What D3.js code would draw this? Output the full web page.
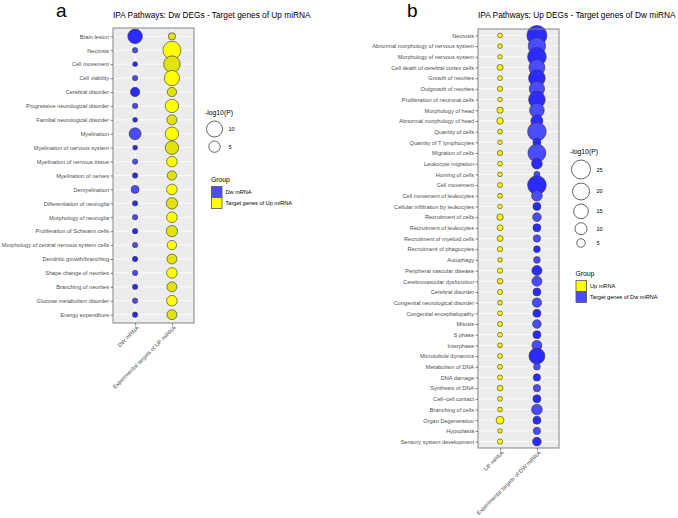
<!DOCTYPE html>
<html>
<head>
<meta charset="utf-8">
<script src="https://cdn.jsdelivr.net/npm/d3@7"></script>
<style>
  body { margin: 0; background: #fff; }
  svg text { font-family: "Liberation Sans", Arial, sans-serif; }
</style>
</head>
<body>
<svg id="chart" width="678" height="518"></svg>
<script>
//panel a data
var aPathways = ['Brain lesion', 'Necrosis', 'Cell movement', 'Cell viability', 'Cerebral disorder',
  'Progressive neurological disorder', 'Familial neurological disorder', 'Myelination',
  'Myelination of nervous system', 'Myelination of nervous tissue', 'Myelination of nerves',
  'Demyelination', 'Differentiation of neuroglia', 'Morphology of neuroglia',
  'Proliferation of Schwann cells', 'Morphology of central nervous system cells',
  'Dendritic growth/branching', 'Shape change of neurites', 'Branching of neurites',
  'Glucose metabolism disorder', 'Energy expenditure'];
var aColumns = ['DW mRNA', 'Experimental targets of UP miRNA'];
var aDwMrna = [8.3, 1.1, 0.9, 1.1, 3.4, 1.1, 0.9, 5.6, 0.9, 1.1, 1.1, 2.5, 1.1, 1.1, 1.1, 1.1, 1.1, 1.1, 1.1, 1.1, 1.1];
var aUpTargets = [2.1, 12.7, 10.8, 9.2, 3.4, 7.0, 3.9, 7.0, 7.0, 4.4, 3.4, 4.4, 5.0, 4.4, 5.0, 3.4, 3.9, 4.4, 3.9, 4.4, 3.9];
var aSizeBreaks = [10, 5];
var aGroups = ['Dw mRNA', 'Target genes of Up miRNA'];

//panel b data
var bPathways = ['Necrosis', 'Abnormal morphology of nervous system', 'Morphology of nervous system',
  'Cell death of cerebral cortex cells', 'Growth of neurites', 'Outgrowth of neurites',
  'Proliferation of neuronal cells', 'Morphology of head', 'Abnormal morphology of head',
  'Quantity of cells', 'Quantity of T lymphocytes', 'Migration of cells', 'Leukocyte migration',
  'Homing of cells', 'Cell movement', 'Cell movement of leukocytes', 'Cellular infiltration by leukocytes',
  'Recruitment of cells', 'Recruitment of leukocytes', 'Recruitment of myeloid cells',
  'Recruitment of phagocytes', 'Autophagy', 'Peripheral vascular disease', 'Cerebrovascular dysfunction',
  'Cerebral disorder', 'Congenital neurological disorder', 'Congenital encephalopathy', 'Mitosis',
  'S phase', 'Interphase', 'Microtubule dynamics', 'Metabolism of DNA', 'DNA damage',
  'Synthesis of DNA', 'Cell\u2212cell contact', 'Branching of cells', 'Organ Degeneration',
  'Hypoplasia', 'Sensory system development'];
var bColumns = ['UP mRNA', 'Experimental targets of DW miRNA'];
var bUpMrna = [1.5, 1.5, 1.4, 2.5, 1.6, 1.9, 1.4, 2.7, 3.0, 1.6, 1.4, 1.9, 1.6, 1.5, 1.7, 1.6, 1.4, 2.9, 2.4, 2.4,
  1.9, 1.4, 1.9, 2.2, 1.8, 1.6, 1.6, 1.7, 1.6, 1.6, 1.6, 1.7, 1.7, 2.2, 1.6, 1.6, 4.3, 1.4, 1.9];
var bDwTargets = [27.7, 20.9, 24.0, 17.7, 19.2, 16.3, 19.2, 14.9, 10.0, 24.0, 4.4, 22.4, 7.9, 2.5, 24.0, 7.9, 4.4, 5.2, 4.4, 3.7,
  3.1, 3.1, 6.9, 6.9, 4.4, 6.0, 4.4, 5.2, 4.4, 6.9, 17.7, 3.1, 3.7, 3.7, 4.4, 7.9, 4.4, 3.7, 5.2];
var bSizeBreaks = [25, 20, 15, 10, 5];
var bGroups = ['Up mRNA', 'Target genes of Dw miRNA'];

var svg = d3.select('#chart');

//shades: [even rows, odd rows]
var blueShades = ['#2b2bff', '#4b4bff'];
var yellowAShades = ['#e2e20e', '#ffff00'];
var yellowBShades = ['#ffff00', '#f5f500'];

drawPanel({
  letter: 'a', letterX: 56,
  title: 'IPA Pathways: Dw DEGs - Target genes of Up miRNA',
  left: 113, right: 194, top: 28, bottom: 323,
  pathways: aPathways, columns: aColumns,
  series: [aDwMrna, aUpTargets],
  shades: [blueShades, yellowAShades],
  size: d3.scaleSqrt().domain([0, 10]).range([0, 8]),
  breaks: aSizeBreaks,
  legendX: 205, legendY: 115,
  groups: aGroups, groupFill: ['#4b4bff', '#ffff00'],
  groupX: 211, groupY: 182
});

drawPanel({
  letter: 'b', letterX: 407,
  title: 'IPA Pathways: Up DEGs - Target genes of Dw miRNA',
  left: 478, right: 559, top: 29, bottom: 448,
  pathways: bPathways, columns: bColumns,
  series: [bUpMrna, bDwTargets],
  shades: [yellowBShades, blueShades],
  size: d3.scaleSqrt().domain([0, 25]).range([0, 9.5]),
  breaks: bSizeBreaks,
  legendX: 570, legendY: 154,
  groups: bGroups, groupFill: ['#ffff00', '#4b4bff'],
  groupX: 575.5, groupY: 276
});

function drawPanel(p) {
  var g = svg.append('g');

  var y = d3.scalePoint().domain(p.pathways).range([p.top, p.bottom]).padding(0.6);
  var x = d3.scalePoint().domain(p.columns).range([p.left, p.right]).padding(0.6);

  //letter and title
  g.append('text').attr('x', p.letterX).attr('y', 17)
    .style('font-size', '19px').text(p.letter);
  g.append('text').attr('x', p.left).attr('y', 17.5)
    .style('font-size', '8.3px').text(p.title);

  //panel background + grid
  g.append('rect').attr('x', p.left).attr('y', p.top)
    .attr('width', p.right - p.left).attr('height', p.bottom - p.top)
    .style('fill', '#ececec');
  g.selectAll('.hgrid').data(p.pathways).join('line')
    .attr('x1', p.left).attr('x2', p.right)
    .attr('y1', d => y(d)).attr('y2', d => y(d))
    .style('stroke', '#fff').style('stroke-width', 0.8);
  g.selectAll('.vgrid').data(p.columns).join('line')
    .attr('y1', p.top).attr('y2', p.bottom)
    .attr('x1', d => x(d)).attr('x2', d => x(d))
    .style('stroke', '#fff').style('stroke-width', 0.8);

  //points
  p.series.forEach(function(vals, ci) {
    g.append('g').selectAll('circle')
      .data(vals)
      .join('circle')
      .attr('cx', x(p.columns[ci]))
      .attr('cy', (d, i) => y(p.pathways[i]))
      .attr('r', d => p.size(d))
      .style('fill', (d, i) => p.shades[ci][i % 2])
      .style('stroke', '#333')
      .style('stroke-width', 0.6);
  });

  //panel border
  g.append('rect').attr('x', p.left).attr('y', p.top)
    .attr('width', p.right - p.left).attr('height', p.bottom - p.top)
    .style('fill', 'none').style('stroke', '#858585').style('stroke-width', 1);

  //axes
  var yAxis = g.append('g').attr('transform', `translate(${p.left},0)`)
    .call(d3.axisLeft(y).tickSize(2.5).tickPadding(1.5));
  var xAxis = g.append('g').attr('transform', `translate(0,${p.bottom})`)
    .call(d3.axisBottom(x).tickSize(2.5).tickPadding(1.5));
  [yAxis, xAxis].forEach(function(ax) {
    ax.select('.domain').remove();
    ax.selectAll('line').style('stroke', '#333').style('stroke-width', 0.6);
    ax.selectAll('text').style('fill', '#4d4d4d').style('font-size', '5.6px')
      .style('font-family', '"Liberation Sans", Arial, sans-serif');
  });
  xAxis.selectAll('text')
    .style('font-size', '5.6px')
    .style('text-anchor', 'end')
    .attr('dy', '0.4em').attr('dx', '-0.2em')
    .attr('transform', 'rotate(-45)');

  //size legend
  var lg = g.append('g');
  lg.append('text').attr('x', p.legendX).attr('y', p.legendY)
    .style('font-size', '6.8px').text('-log10(P)');
  var maxR = p.size(d3.max(p.breaks));
  var cx = p.legendX + 1.5 + maxR;
  var cy = p.legendY + 4;
  p.breaks.forEach(function(b) {
    var r = p.size(b);
    var h = Math.max(2 * r + 4, 11);
    lg.append('circle').attr('cx', cx).attr('cy', cy + h / 2).attr('r', r)
      .style('fill', '#fff').style('stroke', '#222').style('stroke-width', 0.7);
    lg.append('text').attr('x', cx + maxR + 6).attr('y', cy + h / 2 + 2)
      .style('font-size', '5.6px').text(b);
    cy += h;
  });

  //group legend
  var gg = g.append('g');
  gg.append('text').attr('x', p.groupX).attr('y', p.groupY)
    .style('font-size', '6.8px').text('Group');
  p.groups.forEach(function(name, i) {
    gg.append('rect').attr('x', p.groupX + 0.5).attr('y', p.groupY + 4.5 + i * 11)
      .attr('width', 10.5).attr('height', 11)
      .style('fill', p.groupFill[i]).style('stroke', '#555').style('stroke-width', 0.8);
    gg.append('text').attr('x', p.groupX + 14.5).attr('y', p.groupY + 12 + i * 11)
      .style('font-size', '5.6px').text(name);
  });
}
</script>
</body>
</html>
